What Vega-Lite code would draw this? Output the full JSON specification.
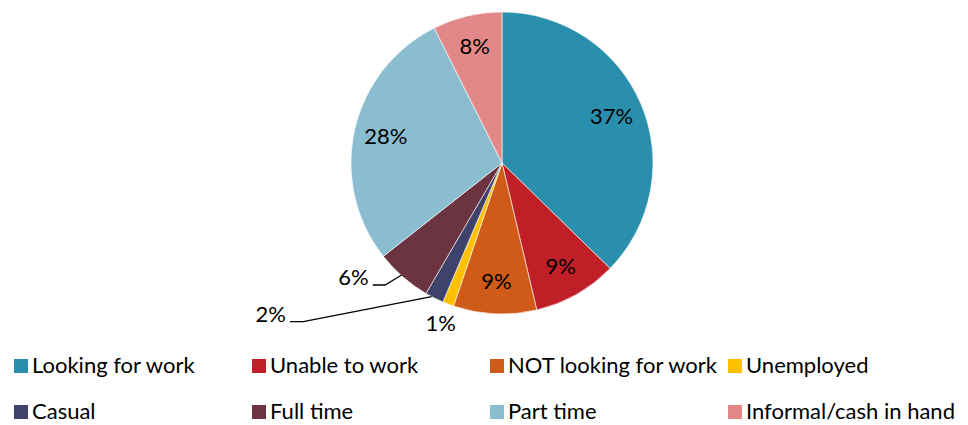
{
  "$schema": "https://vega.github.io/schema/vega-lite/v6.json",
  "autosize": {"type": "none"},
  "width": 932,
  "height": 326,
  "padding": {"left": 36, "top": 0, "right": 0, "bottom": 99},
  "background": "white",
  "config": {"view": {"stroke": null}, "font": "Lato"},
  "datasets": {
    "main": [
      {"category": "Looking for work", "value": 37.3, "label": "37%", "ord": 1},
      {"category": "Unable to work", "value": 9.0, "label": "9%", "ord": 2},
      {"category": "NOT looking for work", "value": 8.9, "label": "9%", "ord": 3},
      {"category": "Unemployed", "value": 1.2, "label": "1%", "ord": 4},
      {"category": "Casual", "value": 2.0, "label": "2%", "ord": 5},
      {"category": "Full time", "value": 6.0, "label": "6%", "ord": 6},
      {"category": "Part time", "value": 28.2, "label": "28%", "ord": 7},
      {"category": "Informal/cash in hand", "value": 7.4, "label": "8%", "ord": 8}
    ],
    "leaders": [
      {"id": "6%", "seq": 0, "px": -0.856, "py": -0.808},
      {"id": "6%", "seq": 1, "px": -0.775, "py": -0.808},
      {"id": "6%", "seq": 2, "px": -0.664, "py": -0.742},
      {"id": "2%", "seq": 0, "px": -1.404, "py": -1.051},
      {"id": "2%", "seq": 1, "px": -1.316, "py": -1.051},
      {"id": "2%", "seq": 2, "px": -0.466, "py": -0.885}
    ]
  },
  "layer": [
    {
      "data": {"name": "main"},
      "mark": {"type": "arc", "outerRadius": 151, "stroke": "white", "strokeWidth": 0.6},
      "encoding": {
        "theta": {"field": "value", "type": "quantitative", "stack": true},
        "order": {"field": "ord", "type": "quantitative"},
        "color": {
          "field": "category",
          "type": "nominal",
          "scale": {
            "domain": ["Looking for work", "Unable to work", "NOT looking for work", "Unemployed", "Casual", "Full time", "Part time", "Informal/cash in hand"],
            "range": ["#2A8FAD", "#C11F28", "#D05A17", "#FFC000", "#3E436B", "#6C3340", "#8ABDD0", "#E38888"]
          },
          "legend": {
            "title": null,
            "orient": "none",
            "legendX": -26,
            "legendY": 355,
            "direction": "horizontal",
            "columns": 4,
            "gridAlign": "all",
            "symbolType": "square",
            "symbolSize": 196,
            "symbolStrokeWidth": 0,
            "labelFont": "Lato",
            "labelFontSize": 22,
            "labelColor": "black",
            "labelLimit": 400,
            "labelOffset": 0,
            "columnPadding": 5,
            "rowPadding": 24,
            "padding": 0
          }
        }
      }
    },
    {
      "data": {"name": "main"},
      "mark": {"type": "text", "fontSize": 22, "font": "Lato", "color": "black", "align": "center", "baseline": "middle", "radius": 119},
      "encoding": {
        "theta": {"field": "value", "type": "quantitative", "stack": true},
        "order": {"field": "ord", "type": "quantitative"},
        "text": {"field": "label", "type": "nominal", "condition": {"test": "datum.category === 'Casual' || datum.category === 'Full time' || datum.category === 'Unemployed'", "value": ""}}
      }
    },
    {
      "data": {"name": "main"},
      "mark": {"type": "text", "fontSize": 22, "font": "Lato", "color": "black", "align": "center", "baseline": "middle", "radius": 172},
      "encoding": {
        "theta": {"field": "value", "type": "quantitative", "stack": true},
        "order": {"field": "ord", "type": "quantitative"},
        "text": {"field": "label", "type": "nominal", "condition": {"test": "datum.category !== 'Unemployed'", "value": ""}}
      }
    },
    {
      "data": {"name": "leaders"},
      "mark": {"type": "line", "color": "black", "strokeWidth": 1.3},
      "encoding": {
        "x": {"field": "px", "type": "quantitative", "scale": {"domain": [-3.0861, 3.0861], "nice": false, "zero": false}, "axis": null},
        "y": {"field": "py", "type": "quantitative", "scale": {"domain": [-1.0795, 1.0795], "nice": false, "zero": false}, "axis": null},
        "detail": {"field": "id"},
        "order": {"field": "seq", "type": "quantitative"}
      }
    },
    {
      "data": {"name": "leaders"},
      "transform": [{"filter": "datum.seq === 0"}],
      "mark": {"type": "text", "fontSize": 22, "font": "Lato", "color": "black", "align": "right", "baseline": "middle", "dx": -4, "dy": -7},
      "encoding": {
        "x": {"field": "px", "type": "quantitative", "scale": {"domain": [-3.0861, 3.0861], "nice": false, "zero": false}, "axis": null},
        "y": {"field": "py", "type": "quantitative", "scale": {"domain": [-1.0795, 1.0795], "nice": false, "zero": false}, "axis": null},
        "text": {"field": "id", "type": "nominal"}
      }
    }
  ]
}
